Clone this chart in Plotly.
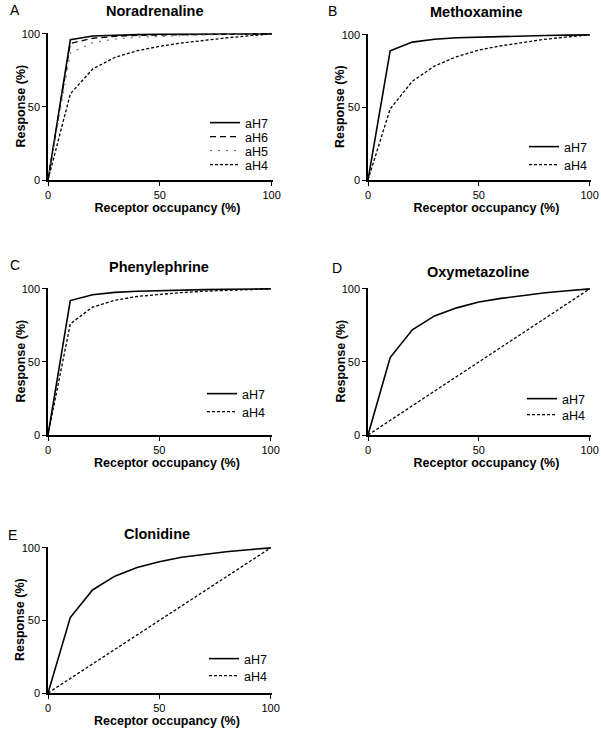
import plotly.graph_objects as go

W, H = 601, 731

occupancy = [0, 10, 20, 30, 40, 50, 60, 70, 80, 90, 100]

nor_aH7 = [0, 96, 98.5, 99.2, 99.5, 99.7, 99.8, 99.9, 99.9, 100, 100]
nor_aH6 = [0, 93.5, 97, 98.3, 99, 99.3, 99.5, 99.7, 99.8, 99.9, 100]
nor_aH5 = [0, 87, 94, 96.5, 97.7, 98.4, 98.9, 99.3, 99.6, 99.8, 100]
nor_aH4 = [0, 59, 76, 84, 88.5, 91.5, 93.8, 95.7, 97.3, 98.7, 100]

meth_aH7 = [0, 89, 95, 97, 98, 98.5, 99, 99.3, 99.6, 99.8, 100]
meth_aH4 = [0, 49, 68, 78.5, 85, 89.5, 92.5, 95, 97, 98.6, 100]

phen_aH7 = [0, 92, 96, 97.6, 98.4, 98.9, 99.3, 99.5, 99.7, 99.9, 100]
phen_aH4 = [0, 76, 87.5, 92.2, 94.8, 96.4, 97.5, 98.4, 99, 99.5, 100]

oxy_aH7 = [0, 53, 72, 81.5, 87, 91, 93.5, 95.6, 97.3, 98.7, 100]
oxy_aH4 = [0, 10, 20, 30, 40, 50, 60, 70, 80, 90, 100]

clon_aH7 = [0, 52, 71, 80.5, 86.5, 90.5, 93.5, 95.5, 97.3, 98.7, 100]
clon_aH4 = [0, 10, 20, 30, 40, 50, 60, 70, 80, 90, 100]

titles = ["Noradrenaline", "Methoxamine", "Phenylephrine", "Oxymetazoline", "Clonidine"]
letters = ["A", "B", "C", "D", "E"]
tick_vals = [0, 50, 100]
tick_text = ["0", "50", "100"]
x_title = "Receptor occupancy (%)"
y_title = "Response (%)"


def fx(px):
    return px / W


def fy(py):
    return 1 - py / H


# panel pixel boxes: (left, right, top, bottom)
boxes = [
    (48, 273, 33, 180),
    (368, 591, 34, 180),
    (48, 272, 288, 435),
    (368, 591, 288, 435),
    (48, 272, 547, 693),
]

FONT = "Liberation Sans, Arial, Helvetica, sans-serif"

styles = {
    "aH7": dict(color="black", width=1.6, dash="solid"),
    "aH6": dict(color="black", width=1.3, dash="6px,4px"),
    "aH5": dict(color="#777777", width=1.2, dash="2px,6px"),
    "aH4": dict(color="black", width=1.3, dash="3px,2px"),
}

panels = [
    [("aH7", nor_aH7), ("aH6", nor_aH6), ("aH5", nor_aH5), ("aH4", nor_aH4)],
    [("aH7", meth_aH7), ("aH4", meth_aH4)],
    [("aH7", phen_aH7), ("aH4", phen_aH4)],
    [("aH7", oxy_aH7), ("aH4", oxy_aH4)],
    [("aH7", clon_aH7), ("aH4", clon_aH4)],
]

# legend entry pixel positions (left x, center y)
legend_pos = [
    [(205, 123), (205, 137), (205, 151), (205, 165)],
    [(524, 147), (524, 165)],
    [(202, 394), (202, 412)],
    [(522, 399), (522, 415)],
    [(204, 659), (204, 676)],
]

fig = go.Figure()
layout = dict(
    width=W, height=H, margin=dict(l=0, r=0, t=0, b=0, autoexpand=False),
    paper_bgcolor="white", plot_bgcolor="white",
    font=dict(family=FONT, color="black"),
)
annotations = []
leg_idx = 0
NB = "&nbsp;" * 4
for i, (box, series) in enumerate(zip(boxes, panels)):
    l, r, t, b = box
    xa = "xaxis" if i == 0 else f"xaxis{i+1}"
    ya = "yaxis" if i == 0 else f"yaxis{i+1}"
    xref = "x" if i == 0 else f"x{i+1}"
    yref = "y" if i == 0 else f"y{i+1}"
    axis_common = dict(
        range=[0, 100.6], showgrid=False, zeroline=False, showline=True,
        linecolor="black", linewidth=1.5, ticks="outside", ticklen=4,
        tickwidth=1.2, tickcolor="black", tickvals=tick_vals, ticktext=tick_text,
        tickfont=dict(size=11, family=FONT, color="black"), fixedrange=True,
        automargin=False,
    )
    layout[xa] = dict(axis_common, domain=[fx(l), fx(r)], anchor=yref,
                      title=dict(text=f"{NB}<b>{x_title}</b>", font=dict(size=12.5, family=FONT), standoff=2))
    layout[ya] = dict(axis_common, domain=[fy(b), fy(t)], anchor=xref)
    # y-axis title placed beside its tick labels
    annotations.append(dict(
        text=f"<b>{y_title}</b>", x=fx(l - 28), y=fy((t + b) / 2), xref="paper", yref="paper",
        showarrow=False, textangle=-90, xanchor="center", yanchor="middle",
        font=dict(size=12.5, family=FONT),
    ))
    for j, (name, vals) in enumerate(series):
        leg_idx += 1
        lname = "legend" if leg_idx == 1 else f"legend{leg_idx}"
        fig.add_trace(go.Scatter(
            x=occupancy, y=vals, mode="lines", name=name, line=styles[name],
            xaxis=xref, yaxis=yref, legend=lname, showlegend=True,
        ))
        px, py = legend_pos[i][j]
        layout[lname] = dict(
            x=fx(px), y=fy(py), xanchor="left", yanchor="middle",
            bgcolor="rgba(0,0,0,0)", font=dict(size=12.5, family=FONT, color="black"),
            borderwidth=0, itemwidth=30,
        )
    # title
    tpos = [(155, 11), (476, 12), (159, 267), (478, 272), (157, 534)][i]
    annotations.append(dict(
        text=f"<b>{titles[i]}</b>", x=fx(tpos[0]), y=fy(tpos[1]), xref="paper", yref="paper",
        showarrow=False, xanchor="center", yanchor="middle", font=dict(size=14.5, family=FONT),
    ))
    lpos = [(15, 10), (333, 11), (15, 265), (337, 268), (12, 535)][i]
    annotations.append(dict(
        text=letters[i], x=fx(lpos[0]), y=fy(lpos[1]), xref="paper", yref="paper",
        showarrow=False, xanchor="center", yanchor="middle", font=dict(size=14, family=FONT),
    ))

layout["annotations"] = annotations
fig.update_layout(**layout)
fig.write_html("out.html", config={"displayModeBar": False},
               post_script="document.body.style.margin='0px';")
